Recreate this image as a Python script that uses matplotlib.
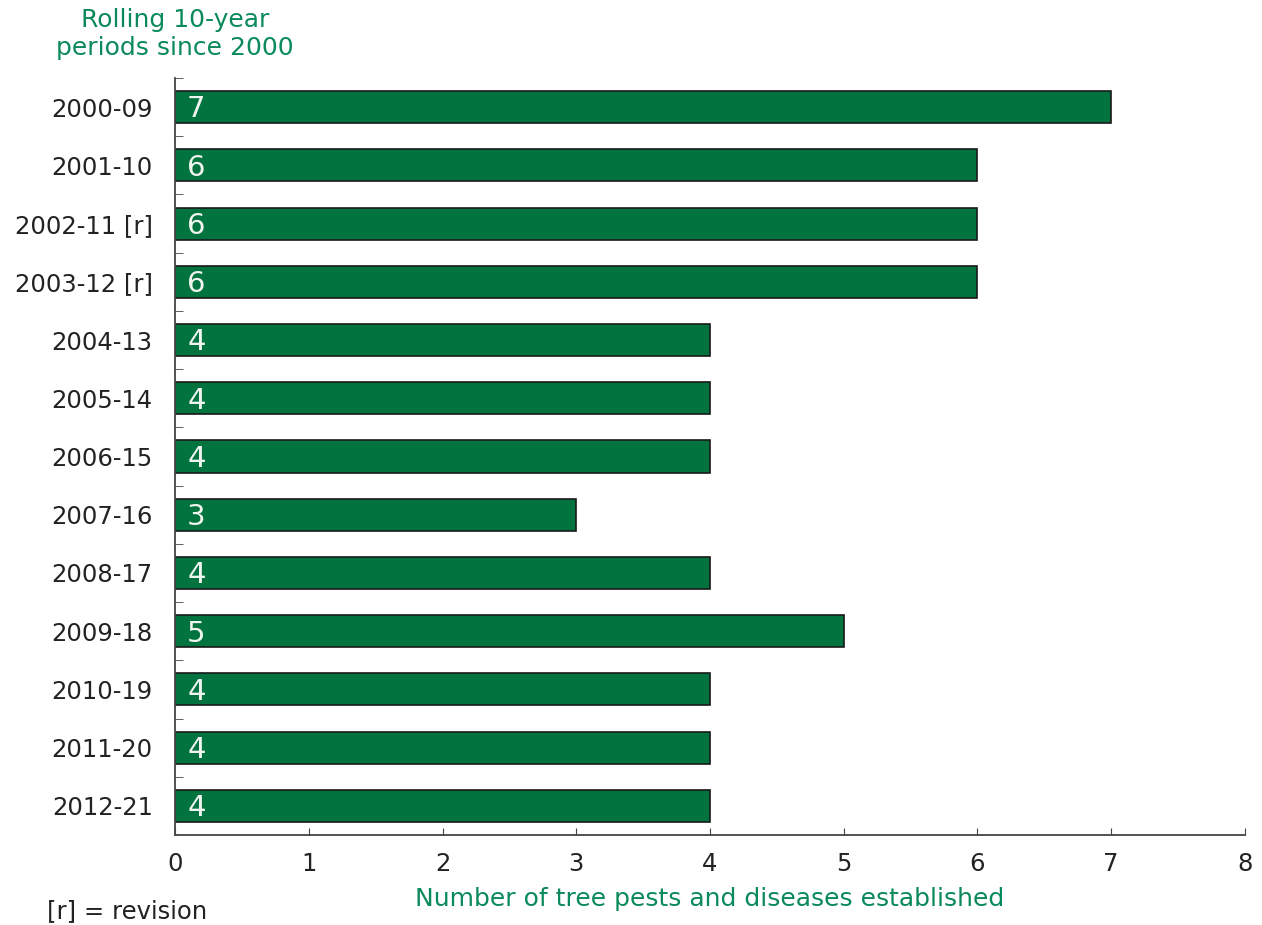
import matplotlib.pyplot as plt
import numpy as np

# rolling 10-year periods and number of pests/diseases established
periods = ['2000-09', '2001-10', '2002-11 [r]', '2003-12 [r]', '2004-13', '2005-14',
           '2006-15', '2007-16', '2008-17', '2009-18', '2010-19', '2011-20', '2012-21']
counts = [7, 6, 6, 6, 4, 4, 4, 3, 4, 5, 4, 4, 4]
xticks = [0, 1, 2, 3, 4, 5, 6, 7, 8]

green_bar = '#00733e'
green_text = '#0a8a5a'

plt.rcParams['font.family'] = ['DejaVu Sans']

fig = plt.figure(figsize=(12.62, 9.25), dpi=100)
ax = fig.add_axes([0.1387, 0.0973, 0.8478, 0.8184])

y = np.arange(len(periods))
ax.barh(y, counts, height=0.55, color=green_bar, edgecolor='#1a1a1a', linewidth=1.2)

for yi, c in zip(y, counts):
    ax.text(0.09, yi + 0.04, str(c), color='#f0f5f0', fontsize=21, va='center', ha='left')

ax.set_ylim(len(periods) - 0.5, -0.5)
ax.set_xlim(0, 8)
ax.set_xticks(xticks)
ax.set_xticklabels([str(t) for t in xticks], fontsize=17.5, color='#222222')
ax.set_yticks(y)
ax.set_yticklabels(periods, fontsize=17.5, color='#222222')
ax.set_yticks(np.arange(-0.5, len(periods) - 0.5, 1), minor=True)

ax.tick_params(axis='y', which='major', length=0, pad=16)
ax.tick_params(axis='y', which='minor', direction='in', length=6, color='#444444')
ax.tick_params(axis='x', which='major', direction='in', length=5, color='#444444', pad=12)

for s in ['top', 'right']:
    ax.spines[s].set_visible(False)
for s in ['left', 'bottom']:
    ax.spines[s].set_color('#444444')
    ax.spines[s].set_linewidth(1.3)

ax.set_xlabel('Number of tree pests and diseases established', fontsize=18,
              color=green_text, labelpad=8)

fig.text(175 / 1262, 1 - 34 / 925, 'Rolling 10-year\nperiods since 2000', ha='center',
         va='center', fontsize=18, color=green_text, linespacing=1.2)
fig.text(47 / 1262, 1 - 911 / 925, '[r] = revision', ha='left', va='center',
         fontsize=17.5, color='#222222')

fig.savefig('out.png', dpi=100)
